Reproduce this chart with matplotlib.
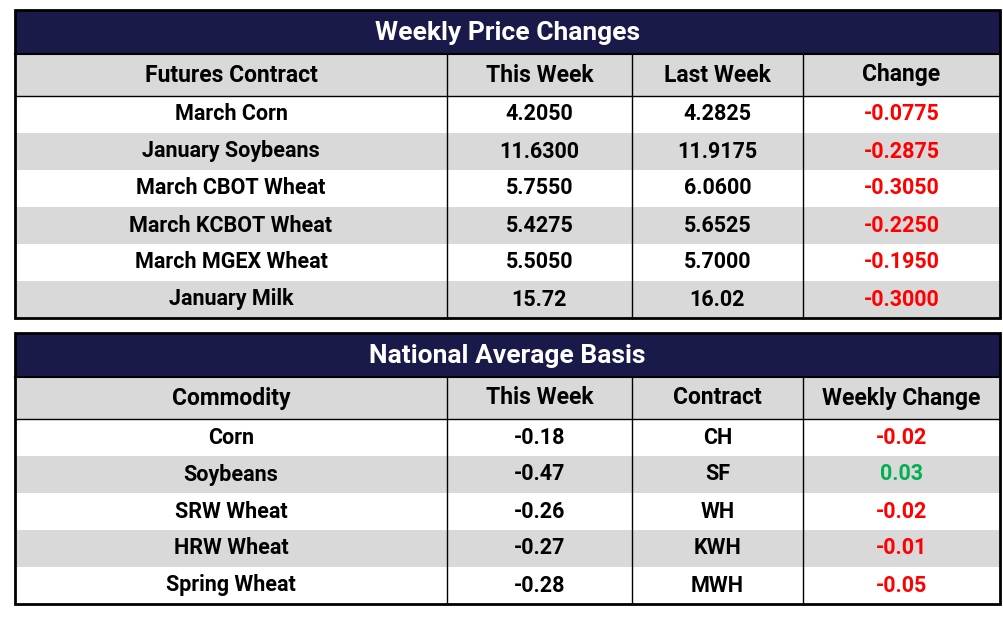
import matplotlib
matplotlib.use("Agg")
import matplotlib.pyplot as plt
from matplotlib.patches import Rectangle

FONT = ['Liberation Sans Narrow', 'Roboto', 'DejaVu Sans']

title1 = "Weekly Price Changes"
header1 = ["Futures Contract", "This Week", "Last Week", "Change"]
contracts = ["March Corn", "January Soybeans", "March CBOT Wheat", "March KCBOT Wheat", "March MGEX Wheat", "January Milk"]
this_week1 = ["4.2050", "11.6300", "5.7550", "5.4275", "5.5050", "15.72"]
last_week1 = ["4.2825", "11.9175", "6.0600", "5.6525", "5.7000", "16.02"]
change1 = ["-0.0775", "-0.2875", "-0.3050", "-0.2250", "-0.1950", "-0.3000"]

title2 = "National Average Basis"
header2 = ["Commodity", "This Week", "Contract", "Weekly Change"]
commodities = ["Corn", "Soybeans", "SRW Wheat", "HRW Wheat", "Spring Wheat"]
this_week2 = ["-0.18", "-0.47", "-0.26", "-0.27", "-0.28"]
contract2 = ["CH", "SF", "WH", "KWH", "MWH"]
change2 = ["-0.02", "0.03", "-0.02", "-0.01", "-0.05"]

NAVY = "#1a1a4a"
GRAY = "#d9d9d9"
RED = "#ff0000"
GREEN = "#00b050"

fig = plt.figure(figsize=(10.04, 6.17), dpi=100)
ax = fig.add_axes([0, 0, 1, 1])
ax.set_xlim(0, 1004)
ax.set_ylim(617, 0)
ax.axis("off")

cols = [15, 447, 632, 803, 1000]

def txt(x, y, s, color="black", size=15.5):
    ax.text(x, y, s, ha="center", va="center", fontsize=size, fontweight="bold",
            color=color, family=FONT)

def draw_table(top, title_h, title, header, rows, row_h=37):
    y = top
    ax.add_patch(Rectangle((cols[0], y), cols[-1]-cols[0], title_h, fc=NAVY, ec="none"))
    txt((cols[0]+cols[-1])/2, y+title_h/2+1, title, color="white", size=19)
    y += title_h
    hh = 42
    ax.add_patch(Rectangle((cols[0], y), cols[-1]-cols[0], hh, fc=GRAY, ec="none"))
    for i, h in enumerate(header):
        txt((cols[i]+cols[i+1])/2, y+hh/2, h, size=16.5)
    ax.plot([cols[0], cols[-1]], [y, y], color="black", lw=1.5)
    y += hh
    ax.plot([cols[0], cols[-1]], [y, y], color="black", lw=1)
    for r, row in enumerate(rows):
        if r % 2 == 1:
            ax.add_patch(Rectangle((cols[0], y), cols[-1]-cols[0], row_h, fc=GRAY, ec="none"))
        for i, (s, c) in enumerate(row):
            txt((cols[i]+cols[i+1])/2, y+row_h/2, s, color=c)
        y += row_h
    bottom = y
    for x in cols[1:-1]:
        ax.plot([x, x], [top+title_h, bottom], color="black", lw=1)
    ax.add_patch(Rectangle((cols[0], top), cols[-1]-cols[0], bottom-top, fc="none", ec="black", lw=2))

rows1 = [[(contracts[i], "black"), (this_week1[i], "black"), (last_week1[i], "black"),
          (change1[i], RED if change1[i].startswith("-") else GREEN)] for i in range(len(contracts))]
rows2 = [[(commodities[i], "black"), (this_week2[i], "black"), (contract2[i], "black"),
          (change2[i], RED if change2[i].startswith("-") else GREEN)] for i in range(len(commodities))]

draw_table(10, 44, title1, header1, rows1)
draw_table(333, 44, title2, header2, rows2)

fig.savefig("out.png", dpi=100, facecolor="white")
